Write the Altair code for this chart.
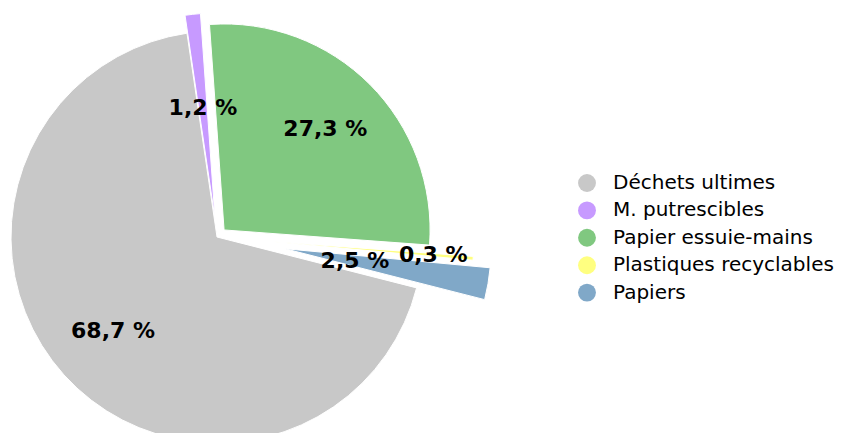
import math
import altair as alt
import pandas as pd

# ---- data ----
categories = ["Déchets ultimes", "M. putrescibles", "Papier essuie-mains",
              "Plastiques recyclables", "Papiers"]
values = [68.7, 1.2, 27.3, 0.3, 2.5]
labels = ["68,7 %", "1,2 %", "27,3 %", "0,3 %", "2,5 %"]

# ---- style ----
colors = ["#c8c8c8", "#c79aff", "#80c880", "#ffff80", "#80a8c8"]
explode = {"Déchets ultimes": 0, "M. putrescibles": 18, "Papier essuie-mains": 10,
           "Plastiques recyclables": 51, "Papiers": 69}
label_r = {"Déchets ultimes": 140, "M. putrescibles": 130, "Papier essuie-mains": 153,
           "Plastiques recyclables": 217, "Papiers": 140}
W, H = 835, 425
CX, CY = 209, 229
R = 206
START = math.radians(104.3)
FONT = "DejaVu Sans"

df = pd.DataFrame({
    "cat": categories,
    "value": values,
    "label": labels,
    "idx": list(range(len(categories))),
    "ex": [explode[c] for c in categories],
    "lr": [label_r[c] for c in categories],
})

base = alt.Chart(df).transform_joinaggregate(
    total="sum(value)"
).transform_window(
    cum="sum(value)", sort=[alt.SortField("idx")], frame=[None, 0]
).transform_calculate(
    f0="(datum.cum - datum.value) / datum.total",
    f1="datum.cum / datum.total",
).transform_calculate(
    mid=f"{START} + 2 * PI * (datum.f0 + datum.f1) / 2"
).transform_calculate(
    px=f"{CX} + datum.ex * sin(datum.mid)",
    py=f"{CY} - datum.ex * cos(datum.mid)",
    lx=f"{CX} + datum.lr * sin(datum.mid)",
    ly=f"{CY} - datum.lr * cos(datum.mid)",
)

xs = alt.Scale(domain=[0, W], range=[0, W])
ys = alt.Scale(domain=[0, H], range=[0, H])
ts = alt.Scale(domain=[0, 1], range=[START, START + 2 * math.pi])

arcs = base.mark_arc(radius=R, stroke="white", strokeWidth=1).encode(
    x=alt.X("px:Q", scale=xs, axis=None),
    y=alt.Y("py:Q", scale=ys, axis=None),
    theta=alt.Theta("f0:Q", scale=ts),
    theta2=alt.Theta2("f1:Q"),
    color=alt.Color(
        "cat:N",
        scale=alt.Scale(domain=categories, range=colors),
        legend=alt.Legend(
            title=None, orient="none", legendX=569, legendY=165,
            symbolType="circle", symbolSize=320, symbolStrokeWidth=0,
            labelFont=FONT, labelFontSize=20, labelColor="#000000",
            labelOffset=16, rowPadding=7.4, padding=0, labelLimit=0,
        ),
    ),
    order=alt.Order("idx:Q"),
)

texts = base.mark_text(
    font=FONT, fontSize=22, fontWeight="bold", color="#000000",
    align="center", baseline="middle",
).encode(
    x=alt.X("lx:Q", scale=xs, axis=None),
    y=alt.Y("ly:Q", scale=ys, axis=None),
    text="label:N",
)

chart = alt.layer(arcs, texts).properties(
    width=W, height=H, padding=0, autosize=alt.AutoSizeParams(type="none")
).configure_view(stroke=None)

chart.save("out.html", embed_options={"renderer": "svg", "actions": False})
